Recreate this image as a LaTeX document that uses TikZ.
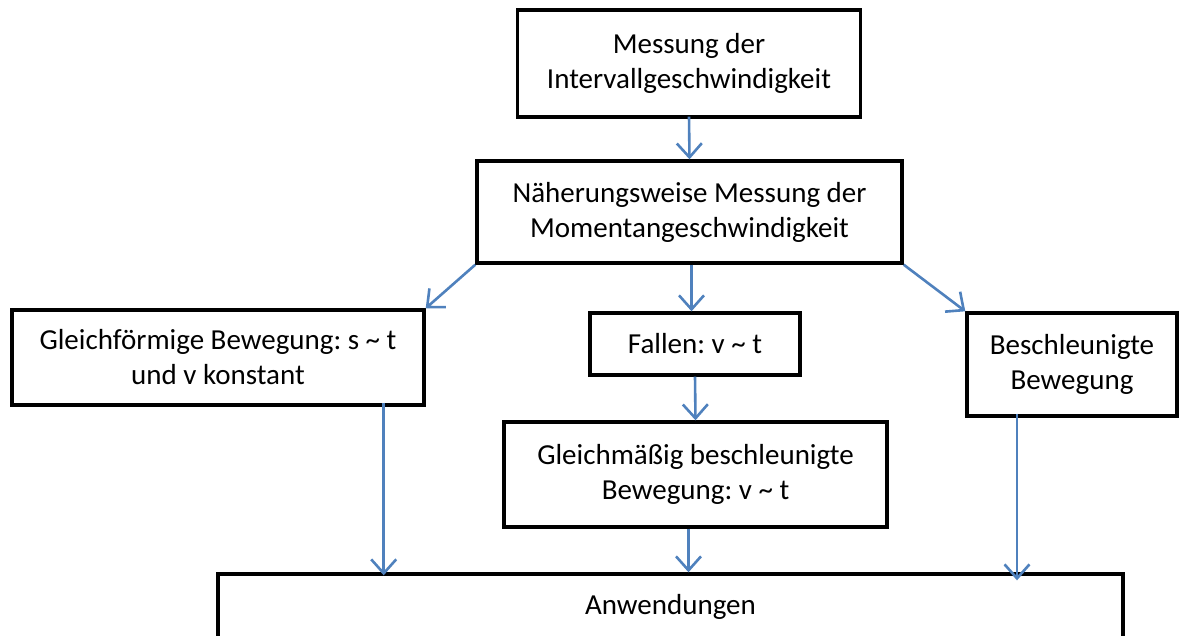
\documentclass[tikz,border=0pt]{standalone}
\usepackage{fontspec}
\setmainfont{Carlito}
\usepackage{xcolor}
\usetikzlibrary{arrows.meta}
\definecolor{pfeilblau}{RGB}{79,129,189}
\frenchspacing

\begin{document}
\begin{tikzpicture}[x=1pt, y=-1pt,
  box/.style={rectangle, draw, line width=3.4pt, fill=white, align=center, inner sep=0pt,
    font=\fontsize{29}{35}\selectfont},
  pfeil/.style={draw=pfeilblau, line width=2.6pt,
    -{Straight Barb[length=14pt, width=25pt, line width=2.6pt]}}]
 	\clip (0,0) rectangle (1180,636);
 	% Nodes
 	\node[box, minimum width=343, minimum height=107] (mess) at (689,63.5) {Messung der\\Intervallgeschwindigkeit};
 	\node[box, minimum width=425, minimum height=102] (moment) at (689.5,212) {Näherungsweise Messung der\\Momentangeschwindigkeit};
 	\node[box, minimum width=412, minimum height=95] (gleichf) at (218,357.5) {Gleichförmige Bewegung: s \textasciitilde{} t\\und v konstant};
 	\node[box, minimum width=210, minimum height=62] (fallen) at (695,344) {Fallen: v \textasciitilde{} t};
 	\node[box, minimum width=210, minimum height=103] (beschl) at (1072,364.5) {Beschleunigte\\Bewegung};
 	\node[box, minimum width=383, minimum height=105] (gleichm) at (695.5,474.5) {Gleichmäßig beschleunigte\\Bewegung: v \textasciitilde{} t};
 	\node[box, minimum width=905, minimum height=66] (anw) at (670.5,607) {Anwendungen};
 	% Edges
 	\draw[pfeil] ([yshift=2pt]mess.south) -- (moment.north);
 	\draw[pfeil] ([xshift=2pt]moment.south) -- ([xshift=2pt]moment.south |- fallen.north);
 	\draw[pfeil] (moment.south west) -- (gleichf.north east);
 	\draw[pfeil] (moment.south east) -- (beschl.north west);
 	\draw[pfeil] (fallen.south) -- (gleichm.north);
 	\draw[pfeil] ([xshift=-7pt]gleichm.south) -- ([xshift=-7pt]gleichm.south |- anw.north);
 	\draw[pfeil] ([xshift=-42pt, yshift=4pt]gleichf.south east) -- ([xshift=-42pt, yshift=-3pt]gleichf.south east |- anw.north);
 	\draw[pfeil] ([xshift=-55pt, yshift=4pt]beschl.south) -- ([xshift=-55pt, yshift=-8pt]beschl.south |- anw.north);
\end{tikzpicture}
\end{document}
